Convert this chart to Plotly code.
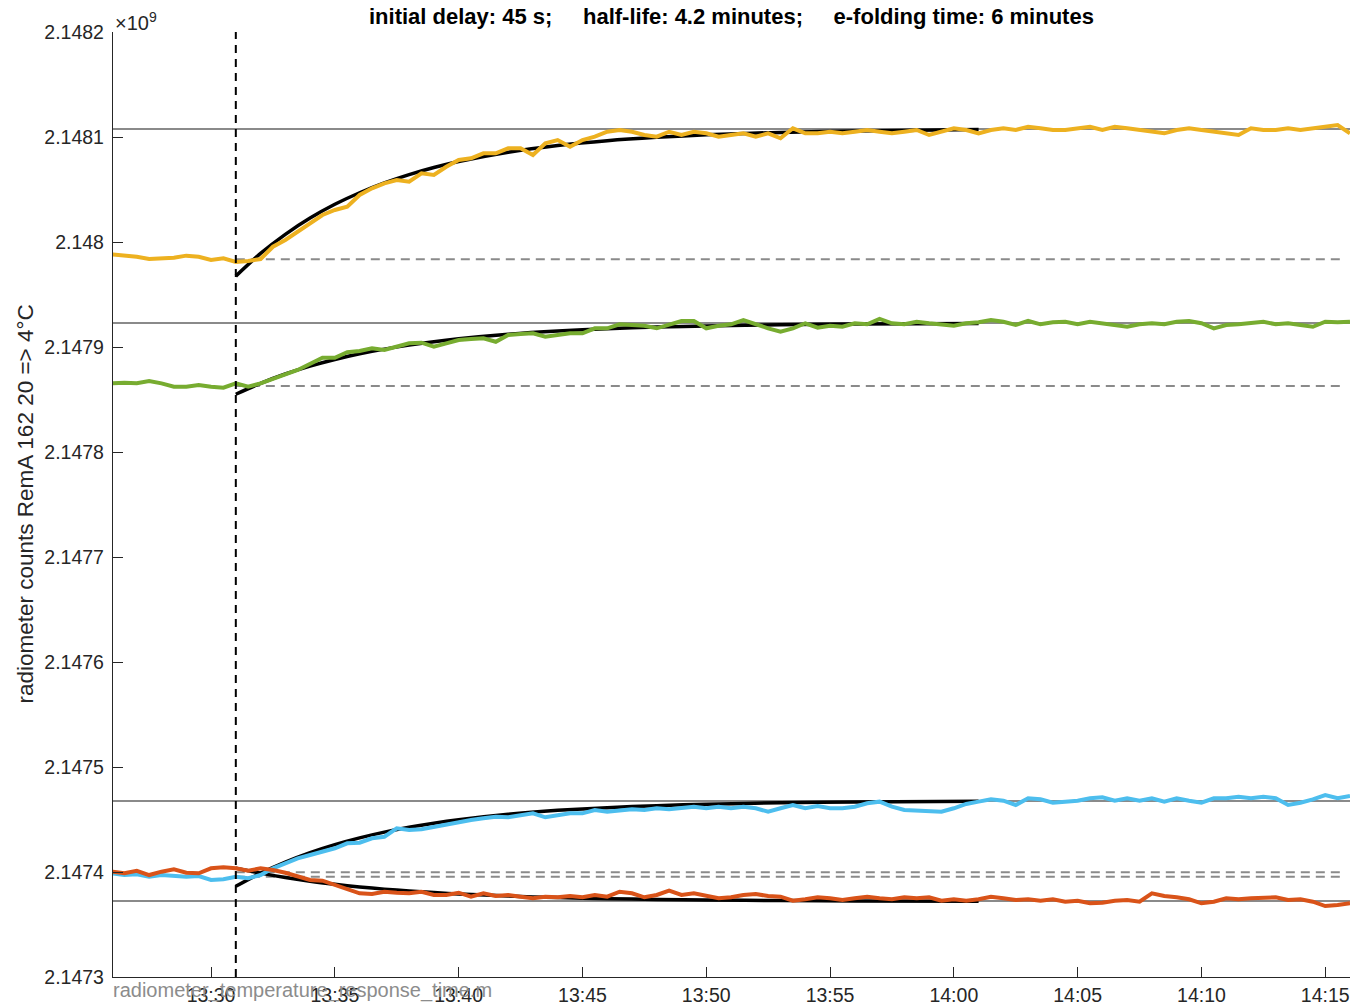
import plotly.graph_objects as go

# ---------------- data (time in minutes after 13:00, counts in units of 1e9) ----------------
times = [26.0, 26.5, 27.0, 27.5, 28.0, 28.5, 29.0, 29.5, 30.0, 30.5,
         31.0, 31.5, 32.0, 32.5, 33.0, 33.5, 34.0, 34.5, 35.0, 35.5,
         36.0, 36.5, 37.0, 37.5, 38.0, 38.5, 39.0, 39.5, 40.0, 40.5,
         41.0, 41.5, 42.0, 42.5, 43.0, 43.5, 44.0, 44.5, 45.0, 45.5,
         46.0, 46.5, 47.0, 47.5, 48.0, 48.5, 49.0, 49.5, 50.0, 50.5,
         51.0, 51.5, 52.0, 52.5, 53.0, 53.5, 54.0, 54.5, 55.0, 55.5,
         56.0, 56.5, 57.0, 57.5, 58.0, 58.5, 59.0, 59.5, 60.0, 60.5,
         61.0, 61.5, 62.0, 62.5, 63.0, 63.5, 64.0, 64.5, 65.0, 65.5,
         66.0, 66.5, 67.0, 67.5, 68.0, 68.5, 69.0, 69.5, 70.0, 70.5,
         71.0, 71.5, 72.0, 72.5, 73.0, 73.5, 74.0, 74.5, 75.0, 75.5,
         76.0]

yellow_counts = [2.1479883, 2.1479876, 2.1479860, 2.1479838, 2.1479845, 2.1479850, 2.1479870, 2.1479860, 2.1479829, 2.1479845,
                 2.1479810, 2.1479819, 2.1479838, 2.1479955, 2.1480019, 2.1480098, 2.1480178, 2.1480257, 2.1480305, 2.1480336,
                 2.1480448, 2.1480511, 2.1480559, 2.1480590, 2.1480574, 2.1480654, 2.1480638, 2.1480717, 2.1480781, 2.1480797,
                 2.1480845, 2.1480845, 2.1480892, 2.1480892, 2.1480829, 2.1480940, 2.1480971, 2.1480908, 2.1480971, 2.1481003,
                 2.1481050, 2.1481067, 2.1481050, 2.1481019, 2.1481003, 2.1481050, 2.1481019, 2.1481050, 2.1481035, 2.1481003,
                 2.1481019, 2.1481035, 2.1481003, 2.1481035, 2.1480988, 2.1481083, 2.1481035, 2.1481035, 2.1481050, 2.1481035,
                 2.1481050, 2.1481067, 2.1481050, 2.1481035, 2.1481050, 2.1481067, 2.1481019, 2.1481050, 2.1481083, 2.1481067,
                 2.1481035, 2.1481067, 2.1481083, 2.1481067, 2.1481098, 2.1481083, 2.1481067, 2.1481067, 2.1481083, 2.1481098,
                 2.1481067, 2.1481098, 2.1481083, 2.1481067, 2.1481050, 2.1481035, 2.1481067, 2.1481083, 2.1481067, 2.1481050,
                 2.1481035, 2.1481019, 2.1481083, 2.1481067, 2.1481067, 2.1481083, 2.1481067, 2.1481083, 2.1481098, 2.1481114,
                 2.1481035]

green_counts = [2.1478654, 2.1478660, 2.1478654, 2.1478676, 2.1478654, 2.1478622, 2.1478622, 2.1478638, 2.1478622, 2.1478612,
                2.1478654, 2.1478622, 2.1478654, 2.1478702, 2.1478740, 2.1478781, 2.1478835, 2.1478898, 2.1478898, 2.1478950,
                2.1478962, 2.1478988, 2.1478971, 2.1479003, 2.1479035, 2.1479041, 2.1479003, 2.1479035, 2.1479067, 2.1479076,
                2.1479083, 2.1479050, 2.1479114, 2.1479124, 2.1479130, 2.1479098, 2.1479114, 2.1479130, 2.1479130, 2.1479178,
                2.1479178, 2.1479216, 2.1479210, 2.1479203, 2.1479178, 2.1479210, 2.1479248, 2.1479248, 2.1479178, 2.1479203,
                2.1479216, 2.1479257, 2.1479216, 2.1479178, 2.1479146, 2.1479178, 2.1479226, 2.1479184, 2.1479203, 2.1479193,
                2.1479226, 2.1479216, 2.1479267, 2.1479226, 2.1479216, 2.1479241, 2.1479226, 2.1479210, 2.1479203, 2.1479226,
                2.1479235, 2.1479257, 2.1479241, 2.1479210, 2.1479248, 2.1479216, 2.1479235, 2.1479241, 2.1479216, 2.1479241,
                2.1479226, 2.1479210, 2.1479193, 2.1479216, 2.1479226, 2.1479216, 2.1479241, 2.1479248, 2.1479226, 2.1479178,
                2.1479210, 2.1479216, 2.1479226, 2.1479241, 2.1479216, 2.1479226, 2.1479210, 2.1479193, 2.1479241, 2.1479235,
                2.1479241]

blue_counts = [2.1473988, 2.1473971, 2.1473978, 2.1473955, 2.1473971, 2.1473962, 2.1473955, 2.1473962, 2.1473924, 2.1473931,
               2.1473955, 2.1473940, 2.1473971, 2.1474035, 2.1474083, 2.1474130, 2.1474162, 2.1474193, 2.1474226, 2.1474273,
               2.1474279, 2.1474321, 2.1474336, 2.1474416, 2.1474400, 2.1474407, 2.1474431, 2.1474448, 2.1474479, 2.1474495,
               2.1474511, 2.1474527, 2.1474521, 2.1474543, 2.1474559, 2.1474521, 2.1474543, 2.1474559, 2.1474559, 2.1474590,
               2.1474574, 2.1474590, 2.1474597, 2.1474590, 2.1474607, 2.1474597, 2.1474607, 2.1474622, 2.1474607, 2.1474622,
               2.1474607, 2.1474622, 2.1474607, 2.1474574, 2.1474607, 2.1474638, 2.1474607, 2.1474629, 2.1474607, 2.1474607,
               2.1474622, 2.1474654, 2.1474670, 2.1474622, 2.1474590, 2.1474584, 2.1474574, 2.1474574, 2.1474607, 2.1474648,
               2.1474670, 2.1474692, 2.1474679, 2.1474638, 2.1474702, 2.1474692, 2.1474660, 2.1474670, 2.1474679, 2.1474702,
               2.1474711, 2.1474679, 2.1474702, 2.1474679, 2.1474702, 2.1474670, 2.1474702, 2.1474679, 2.1474660, 2.1474702,
               2.1474702, 2.1474717, 2.1474702, 2.1474717, 2.1474702, 2.1474638, 2.1474660, 2.1474692, 2.1474733, 2.1474702,
               2.1474724]

red_counts = [2.1474003, 2.1473988, 2.1474012, 2.1473971, 2.1474003, 2.1474026, 2.1473993, 2.1473988, 2.1474035, 2.1474045,
              2.1474035, 2.1474012, 2.1474035, 2.1474019, 2.1473993, 2.1473955, 2.1473924, 2.1473917, 2.1473876, 2.1473845,
              2.1473797, 2.1473790, 2.1473812, 2.1473803, 2.1473797, 2.1473812, 2.1473781, 2.1473781, 2.1473803, 2.1473765,
              2.1473797, 2.1473771, 2.1473781, 2.1473765, 2.1473750, 2.1473765, 2.1473759, 2.1473771, 2.1473759, 2.1473781,
              2.1473765, 2.1473812, 2.1473797, 2.1473759, 2.1473781, 2.1473822, 2.1473781, 2.1473797, 2.1473771, 2.1473750,
              2.1473759, 2.1473781, 2.1473790, 2.1473771, 2.1473765, 2.1473727, 2.1473740, 2.1473759, 2.1473750, 2.1473733,
              2.1473750, 2.1473765, 2.1473750, 2.1473740, 2.1473759, 2.1473750, 2.1473759, 2.1473727, 2.1473740, 2.1473727,
              2.1473740, 2.1473765, 2.1473750, 2.1473733, 2.1473740, 2.1473727, 2.1473740, 2.1473717, 2.1473727, 2.1473702,
              2.1473708, 2.1473727, 2.1473733, 2.1473717, 2.1473797, 2.1473771, 2.1473759, 2.1473740, 2.1473702, 2.1473717,
              2.1473750, 2.1473740, 2.1473750, 2.1473759, 2.1473759, 2.1473733, 2.1473740, 2.1473717, 2.1473676, 2.1473686,
              2.1473702]

# fitted response curves
fit_times = [31.0, 32.0, 33.0, 34.0, 35.0, 36.0, 37.0, 38.0, 39.0, 40.0, 42.0, 44.0, 46.0, 48.0, 50.0, 53.0, 56.0, 61.0]
yellow_fit = [2.1479675, 2.1479891, 2.1480073, 2.1480228, 2.1480359, 2.1480469, 2.1480563, 2.1480642, 2.1480710,
              2.1480767, 2.1480855, 2.1480919, 2.1480965, 2.1480997, 2.1481021, 2.1481044, 2.1481058, 2.1481071]
green_fit = [2.1478550, 2.1478654, 2.1478743, 2.1478818, 2.1478881, 2.1478935, 2.1478980, 2.1479018, 2.1479051,
             2.1479078, 2.1479121, 2.1479152, 2.1479174, 2.1479190, 2.1479201, 2.1479213, 2.1479219, 2.1479225]
blue_fit = [2.1473864, 2.1473989, 2.1474095, 2.1474185, 2.1474261, 2.1474325, 2.1474380, 2.1474426, 2.1474465,
            2.1474498, 2.1474550, 2.1474587, 2.1474613, 2.1474632, 2.1474646, 2.1474659, 2.1474667, 2.1474675]
red_fit = [2.1474037, 2.1473989, 2.1473947, 2.1473912, 2.1473883, 2.1473858, 2.1473837, 2.1473819, 2.1473804,
           2.1473791, 2.1473771, 2.1473756, 2.1473746, 2.1473739, 2.1473733, 2.1473728, 2.1473725, 2.1473722]

# reference levels: start level (dashed) and final level (solid)
series_names = ["yellow", "green", "blue", "red"]
series_colors = ["#EDB120", "#77AC30", "#4DBEEE", "#D95319"]
start_levels = [2.1479835, 2.1478629, 2.1473955, 2.1473997]
final_levels = [2.1481076, 2.1479229, 2.1474676, 2.1473724]

heating_start = 31.0      # 13:31
level_span = [26.0, 76.0]
dashed_span = [31.0, 75.7]

x_ticks = [30, 35, 40, 45, 50, 55, 60, 65, 70, 75]
x_tick_labels = ["13:30", "13:35", "13:40", "13:45", "13:50", "13:55", "14:00", "14:05", "14:10", "14:15"]
y_ticks = [2.1473, 2.1474, 2.1475, 2.1476, 2.1477, 2.1478, 2.1479, 2.1480, 2.1481, 2.1482]
y_tick_labels = ["2.1473", "2.1474", "2.1475", "2.1476", "2.1477", "2.1478", "2.1479", "2.148", "2.1481", "2.1482"]

title_text = ("initial delay: 45 s;\u00a0\u00a0\u00a0\u00a0\u00a0half-life: 4.2 minutes;"
              "\u00a0\u00a0\u00a0\u00a0\u00a0e-folding time: 6 minutes")
y_label = "radiometer counts RemA 162 20 => 4°C"
file_label = "radiometer_temperature_response_time.m"

# ---------------- figure ----------------
FONT = "Liberation Sans, Arial, Helvetica, sans-serif"
GRAY = "#8a8a8a"
AX = "#262626"

fig = go.Figure()

for lvl in final_levels:
    fig.add_trace(go.Scatter(x=level_span, y=[lvl, lvl], mode="lines",
                             line=dict(color=GRAY, width=2), hoverinfo="skip"))
for lvl in start_levels:
    fig.add_trace(go.Scatter(x=dashed_span, y=[lvl, lvl], mode="lines",
                             line=dict(color=GRAY, width=2, dash="9px,6px"), hoverinfo="skip"))

for fit in [yellow_fit, green_fit, blue_fit, red_fit]:
    fig.add_trace(go.Scatter(x=fit_times, y=fit, mode="lines",
                             line=dict(color="black", width=3.5, shape="spline", smoothing=0.8),
                             hoverinfo="skip"))

for name, col, vals in zip(series_names, series_colors,
                           [yellow_counts, green_counts, blue_counts, red_counts]):
    fig.add_trace(go.Scatter(x=times, y=vals, mode="lines", name=name,
                             line=dict(color=col, width=4)))

fig.add_trace(go.Scatter(x=[heating_start, heating_start], y=[y_ticks[0], y_ticks[-1]], mode="lines",
                         line=dict(color="black", width=2, dash="8px,6px"), hoverinfo="skip"))

fig.update_layout(
    width=1353, height=1003,
    margin=dict(l=113, r=3, t=32, b=26, autoexpand=False),
    paper_bgcolor="white", plot_bgcolor="white",
    showlegend=False,
    font=dict(family=FONT, color=AX),
)
fig.update_xaxes(range=[26.04, 76.0], tickvals=x_ticks, ticktext=x_tick_labels,
                 ticks="inside", ticklen=10, tickwidth=1.3, tickcolor=AX,
                 showline=True, linecolor=AX, linewidth=1.3, mirror=False,
                 showgrid=False, zeroline=False, automargin=False,
                 tickfont=dict(size=19.5, color=AX, family=FONT))
fig.update_yaxes(range=[2.1473, 2.1482], tickvals=y_ticks, ticktext=y_tick_labels,
                 ticks="inside", ticklen=10, tickwidth=1.3, tickcolor=AX,
                 showline=True, linecolor=AX, linewidth=1.3, mirror=False,
                 showgrid=False, zeroline=False, automargin=False, ticklabelstandoff=4,
                 tickfont=dict(size=19.5, color=AX, family=FONT))

fig.add_annotation(text="<b>" + title_text + "</b>", xref="paper", yref="paper", x=0.5, y=1,
                   xanchor="center", yanchor="middle", yshift=16, showarrow=False,
                   font=dict(size=22, color="black", family=FONT))
fig.add_annotation(text="×10<sup>9</sup>", xref="paper", yref="paper", x=0, y=1,
                   xanchor="left", yanchor="middle", xshift=0, yshift=11, showarrow=False,
                   font=dict(size=20, color=AX, family=FONT))
fig.add_annotation(text=y_label, xref="paper", yref="paper", x=0, y=0.5, textangle=-90,
                   xanchor="center", yanchor="middle", xshift=-88, showarrow=False,
                   font=dict(size=22.5, color=AX, family=FONT))
fig.add_annotation(text=file_label, xref="paper", yref="paper", x=0, y=0,
                   xanchor="left", yanchor="middle", xshift=-2, yshift=-13, showarrow=False,
                   font=dict(size=20, color="#8c8c8c", family=FONT))

# remove the default 8 px page margin so the 1353x1003 figure fills the window exactly
fig.write_html("out.html", config={"displayModeBar": False},
               post_script="document.body.style.margin='0px';")
